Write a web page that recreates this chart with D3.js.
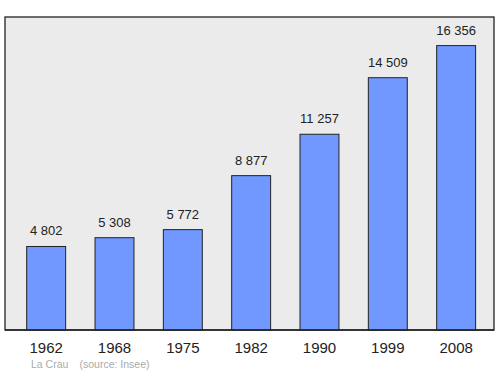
<!DOCTYPE html>
<html>
<head>
<meta charset="utf-8">
<script src="https://cdn.jsdelivr.net/npm/d3@7"></script>
<style>
  body { margin: 0; background: #fff; }
  text { font-family: "Liberation Sans", Arial, sans-serif; }
</style>
</head>
<body>
<svg id="chart"></svg>
<script>
var years = ["1962", "1968", "1975", "1982", "1990", "1999", "2008"];
var population = [4802, 5308, 5772, 8877, 11257, 14509, 16356];
var commune = "La Crau";
var source = "(source: Insee)";

var width = 500;
var height = 374;
var frame = { left: 5, right: 494, top: 17, bottom: 330 };

var svg = d3.select("#chart").attr("width", width).attr("height", height);

// plot frame
svg.append("rect")
    .attr("x", frame.left)
    .attr("y", frame.top)
    .attr("width", frame.right - frame.left)
    .attr("height", frame.bottom - frame.top)
    .attr("fill", "#ebebeb")
    .attr("stroke", "#222")
    .attr("stroke-width", 1.3);

var xScale = d3.scaleBand()
    .domain(years)
    .range([12, 490.3])
    .paddingInner(0.43)
    .paddingOuter(0.215);

var yScale = d3.scaleLinear()
    .domain([0, 18000])
    .range([frame.bottom, frame.top]);

var data = years.map((y, i) => ({ year: y, value: population[i] }));

svg.selectAll(".bar")
    .data(data)
    .enter().append("rect")
    .attr("class", "bar")
    .attr("x", d => xScale(d.year))
    .attr("y", d => yScale(d.value))
    .attr("width", xScale.bandwidth())
    .attr("height", d => frame.bottom - yScale(d.value))
    .attr("fill", "#7098ff")
    .attr("stroke", "#222")
    .attr("stroke-width", 1);

// bottom line redrawn on top of bars
svg.append("line")
    .attr("x1", frame.left)
    .attr("x2", frame.right)
    .attr("y1", frame.bottom)
    .attr("y2", frame.bottom)
    .attr("stroke", "#222")
    .attr("stroke-width", 1.5);

var fmt = v => d3.format(",")(v).replace(",", " ");

svg.selectAll(".val")
    .data(data)
    .enter().append("text")
    .attr("class", "val")
    .attr("x", d => xScale(d.year) + xScale.bandwidth() / 2)
    .attr("y", d => yScale(d.value) - 11)
    .attr("text-anchor", "middle")
    .attr("font-size", "13px")
    .attr("fill", "#222")
    .text(d => fmt(d.value));

var xAxis = svg.append("g")
    .attr("transform", `translate(0,${frame.bottom})`)
    .call(d3.axisBottom(xScale).tickSize(0).tickPadding(12.5));
xAxis.select(".domain").remove();
xAxis.selectAll("text")
    .attr("font-size", "15px")
    .attr("fill", "#222")
    .attr("font-family", "'Liberation Sans', Arial, sans-serif");

svg.append("text")
    .attr("x", 31)
    .attr("y", 368)
    .attr("font-size", "10.5px")
    .attr("fill", "#aaa")
    .text(commune);

svg.append("text")
    .attr("x", 79.5)
    .attr("y", 368)
    .attr("font-size", "10.5px")
    .attr("fill", "#aaa")
    .text(source);
</script>
</body>
</html>
